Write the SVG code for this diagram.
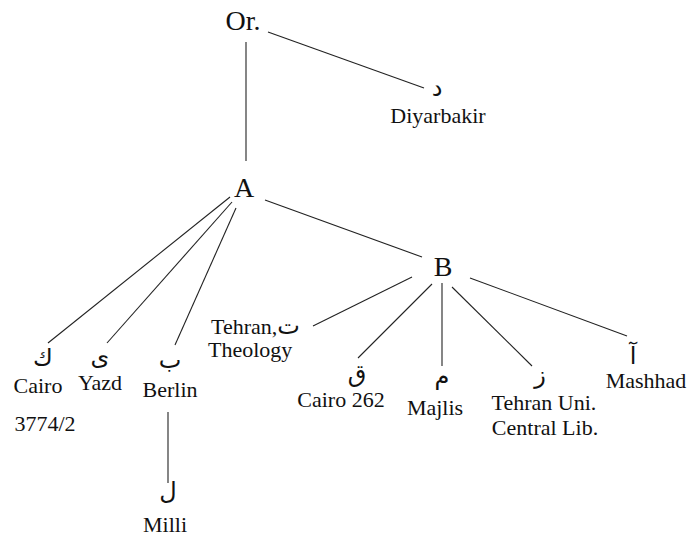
<svg xmlns="http://www.w3.org/2000/svg" width="689" height="537" viewBox="0 0 689 537">
<style>
.bg{fill:#fff}
.big{font-family:"Liberation Serif",serif;font-size:28px;fill:#111;text-anchor:middle}
.lbl{font-family:"Liberation Serif",serif;font-size:22px;fill:#111;text-anchor:middle}
.ar{font-family:"DejaVu Sans","Noto Sans",sans-serif;font-size:24px;fill:#111;text-anchor:middle}
.edge{stroke:#222;stroke-width:1.1;fill:none}
</style>
<rect class="bg" width="689" height="537"/>
<g id="connectors">
<line class="edge" x1="268" y1="32" x2="424" y2="88"/>
<line class="edge" x1="246" y1="42" x2="246" y2="161"/>
<line class="edge" x1="230" y1="197" x2="48" y2="343"/>
<line class="edge" x1="232" y1="202" x2="107" y2="343"/>
<line class="edge" x1="236" y1="208" x2="175" y2="345"/>
<line class="edge" x1="265" y1="200" x2="422" y2="257"/>
<line class="edge" x1="168" y1="412" x2="168" y2="483"/>
<line class="edge" x1="412" y1="277" x2="313" y2="326"/>
<line class="edge" x1="432" y1="284" x2="358" y2="358"/>
<line class="edge" x1="442" y1="283" x2="442" y2="366"/>
<line class="edge" x1="452" y1="287" x2="532" y2="366"/>
<line class="edge" x1="470" y1="278" x2="627" y2="336"/>
</g>
<g id="node-or"><text class="big" x="243" y="30">Or.</text></g>
<g id="node-diyarbakir"><text class="ar" x="437" y="96">د</text><text class="lbl" x="438" y="123">Diyarbakir</text></g>
<g id="node-a"><text class="big" x="244" y="197">A</text></g>
<g id="node-b"><text class="big" x="443" y="276">B</text></g>
<g id="node-cairo3774"><text class="ar" x="43" y="366">ك</text><text class="lbl" x="38" y="393">Cairo</text><text class="lbl" x="45" y="431">3774/2</text></g>
<g id="node-yazd"><text class="ar" x="100" y="365">ی</text><text class="lbl" x="100" y="390">Yazd</text></g>
<g id="node-berlin"><text class="ar" x="170" y="368">ب</text><text class="lbl" x="170" y="397">Berlin</text></g>
<g id="node-milli"><text class="ar" x="168" y="499">ل</text><text class="lbl" x="165" y="532">Milli</text></g>
<g id="node-tehran-theology"><text class="lbl" x="211" y="334" style="text-anchor:start">Tehran,<tspan style="font-family:'DejaVu Sans',sans-serif;font-size:24px">ت</tspan></text><text class="lbl" x="208" y="357" style="text-anchor:start">Theology</text></g>
<g id="node-cairo262"><text class="ar" x="357" y="382">ق</text><text class="lbl" x="341" y="407">Cairo 262</text></g>
<g id="node-majlis"><text class="ar" x="442" y="384">م</text><text class="lbl" x="435" y="415">Majlis</text></g>
<g id="node-tehran-uni"><text class="ar" x="540" y="383">ز</text><text class="lbl" x="544" y="410">Tehran Uni.</text><text class="lbl" x="545" y="435">Central Lib.</text></g>
<g id="node-mashhad"><text class="ar" x="633" y="364">آ</text><text class="lbl" x="646" y="388">Mashhad</text></g>
</svg>
